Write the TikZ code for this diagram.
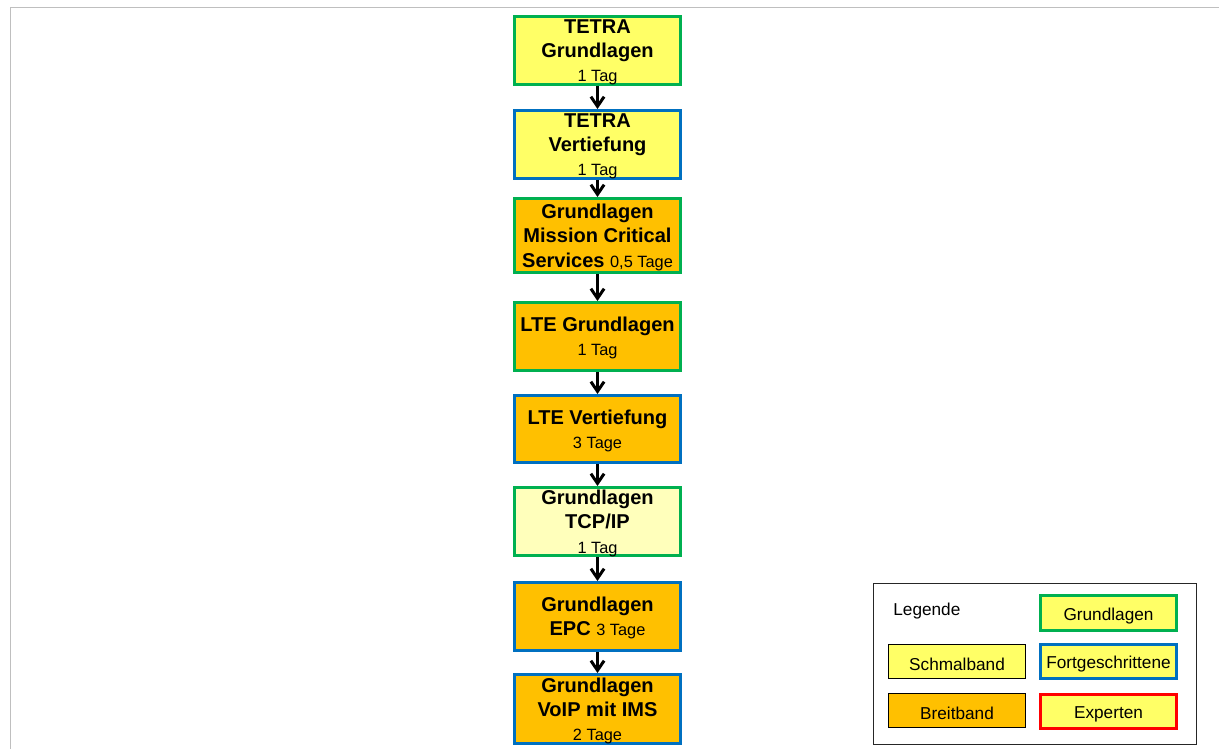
\documentclass[tikz,border=0pt]{standalone}
\usepackage{fontspec}
\setmainfont{Liberation Sans}
\usetikzlibrary{arrows.meta}
\definecolor{schmal}{RGB}{255,255,102}
\definecolor{breit}{RGB}{255,192,0}
\definecolor{blass}{RGB}{255,255,187}
\definecolor{gruen}{RGB}{0,176,80}
\definecolor{blau}{RGB}{0,112,192}
\definecolor{rot}{RGB}{255,0,0}
\newcommand\tage[1]{{\fontsize{9.3}{12}\selectfont\mdseries #1}}

\begin{document}
\begin{tikzpicture}[x=0.02cm,y=-0.02cm]
\tikzset{kurs/.style={draw,line width=1.7pt,inner sep=0pt,minimum width=3.32cm,align=center,
    font=\fontsize{11.4}{13.8}\selectfont\bfseries,text depth=-4pt},
  grund/.style={draw=gruen},fort/.style={draw=blau},expert/.style={draw=rot},
  legtext/.style={font=\fontsize{9.8}{12}\selectfont,inner sep=0pt},
  legbox/.style={legtext,draw,minimum width=2.72cm,minimum height=0.69cm,execute at begin node={\rule{0pt}{10.5pt}}},
  pfeil/.style={line width=1.7pt,-{Straight Barb[length=5.5pt,width=7.5pt,line width=1.7pt]}}}
\useasboundingbox (0,0) rectangle (1219,749);
\draw[black!25,line width=1.1pt] (10.5,760) -- (10.5,7.5) -- (1230,7.5);

% Kurse
\node[kurs,grund,fill=schmal,minimum height=1.36cm] (tetraG) at (597.5,50.5) {TETRA\\Grundlagen\\\tage{1 Tag}};
\node[kurs,fort,fill=schmal,minimum height=1.36cm] (tetraV) at (597.5,144.5) {TETRA\\Vertiefung\\\tage{1 Tag}};
\node[kurs,grund,fill=breit,minimum height=1.48cm] (mcs) at (597.5,235.5) {Grundlagen\\Mission Critical\\Services \tage{0,5 Tage}};
\node[kurs,grund,fill=breit,minimum height=1.36cm] (lteG) at (597.5,336.5) {LTE Grundlagen\\\tage{1 Tag}};
\node[kurs,fort,fill=breit,minimum height=1.34cm] (lteV) at (597.5,429) {LTE Vertiefung\\\tage{3 Tage}};
\node[kurs,grund,fill=blass,minimum height=1.36cm] (tcp) at (597.5,521.5) {Grundlagen\\TCP/IP\\\tage{1 Tag}};
\node[kurs,fort,fill=breit,minimum height=1.36cm] (epc) at (597.5,616.5) {Grundlagen\\EPC \tage{3 Tage}};
\node[kurs,fort,fill=breit,minimum height=1.38cm] (voip) at (597.5,709) {Grundlagen\\VoIP mit IMS\\\tage{2 Tage}};

\foreach \a/\b in {tetraG/tetraV,tetraV/mcs,mcs/lteG,lteG/lteV,lteV/tcp,tcp/epc,epc/voip}
  \draw[pfeil] (\a.south) -- (\b.north);

% Legende
\node[draw=black!85,line width=0.9pt,minimum width=6.46cm,minimum height=3.22cm,inner sep=0pt] (legende) at (1035,664) {};
\node[legtext,anchor=west] (legtitel) at (893,611) {Legende};
\node[legbox,line width=0.6pt,fill=schmal,minimum width=2.74cm] (lSchmal) at (957,661.5) {Schmalband};
\node[legbox,line width=0.6pt,fill=breit,minimum width=2.74cm] (lBreit) at (957,710.5) {Breitband};
\node[legbox,line width=1.7pt,grund,fill=schmal] (lGrund) at (1108.5,613) {Grundlagen};
\node[legbox,line width=1.7pt,fort,fill=schmal] (lFort) at (1108.5,661.5) {Fortgeschrittene};
\node[legbox,line width=1.7pt,expert,fill=schmal] (lExpert) at (1108.5,711.5) {Experten};
\end{tikzpicture}
\end{document}
